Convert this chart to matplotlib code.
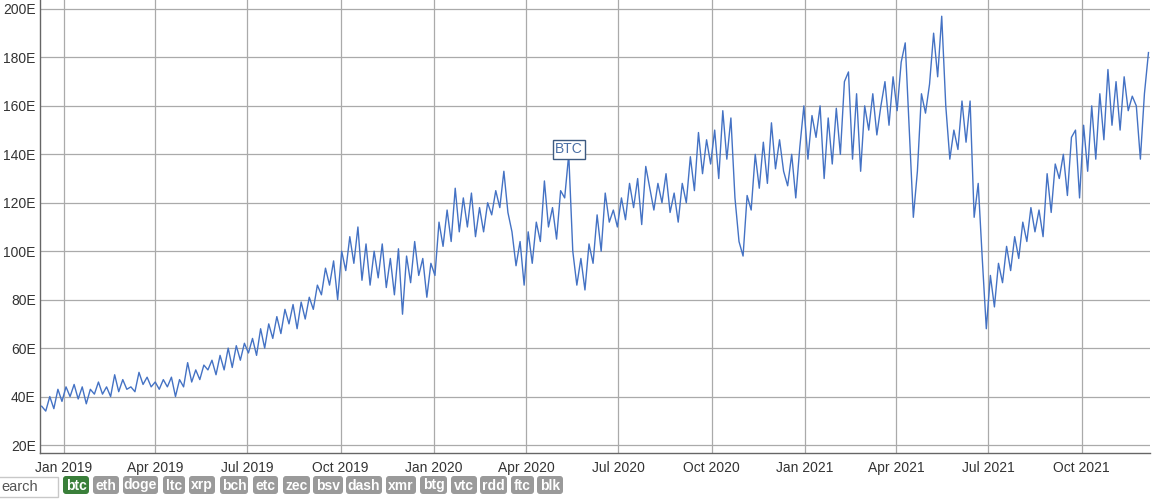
import matplotlib
matplotlib.use("Agg")
import matplotlib.pyplot as plt
import matplotlib.dates as mdates
import pandas as pd
from matplotlib.patches import FancyBboxPatch, Rectangle
from matplotlib.transforms import IdentityTransform

# btc values, one every 4 days starting 2018-12-10
start = "2018-12-10"
btc = [36, 34, 40, 35, 43, 38,
       44, 40, 45, 39, 44, 37, 43, 41,
       46, 41, 44, 40, 49, 42, 47,
       43, 44, 42, 50, 45, 48, 44,
       46, 43, 47, 44, 48, 40, 47, 44,
       54, 46, 51, 47, 53, 51, 55, 49,
       57, 51, 60, 52, 61, 55, 62,
       58, 64, 57, 68, 60, 70, 64, 73,
       66, 76, 70, 78, 68, 79, 72, 81,
       76, 86, 82, 93, 86, 96, 80,
       100, 92, 106, 95, 110, 88, 103, 86,
       100, 89, 103, 85, 97, 82, 101,
       74, 98, 87, 104, 90, 97, 81, 95,
       90, 112, 102, 117, 104, 126, 108, 122,
       110, 124, 106, 118, 108, 120, 115,
       125, 118, 133, 116, 108, 94, 104, 86,
       108, 95, 112, 104, 129, 110, 118, 105,
       125, 122, 140, 100, 86, 97, 84,
       103, 95, 115, 100, 124, 112,
       117, 110, 122, 113, 128, 118, 130, 111, 135,
       126, 117, 128, 120, 132, 116, 124, 112,
       128, 120, 139, 125, 149, 132, 146, 136,
       150, 130, 158, 138, 155, 122, 104,
       98, 123, 117, 140, 126, 145, 128,
       153, 134, 146, 133, 127, 140, 122, 143,
       160, 138, 156, 147, 160, 130, 155, 136,
       159, 140, 170, 174, 138, 165, 133, 160,
       150, 165, 148, 160, 170, 152, 172, 158,
       178, 186, 150, 114, 133, 165, 157, 169,
       190, 172, 197, 160, 138, 150, 142,
       162, 145, 162, 114, 128, 97, 68,
       90, 77, 95, 87, 102, 92, 106, 97,
       112, 104, 118, 108, 117, 106, 132, 116,
       136, 130, 140, 123, 147,
       150, 122, 152, 133, 160, 138, 165, 146, 175, 152,
       170, 150, 172, 158, 164, 160, 138, 165, 182]
dates = pd.date_range(start, periods=len(btc), freq="4D")

x_ticks = pd.date_range("2019-01-01", "2021-10-01", freq="QS")
y_ticks = [20, 40, 60, 80, 100, 120, 140, 160, 180, 200]
coins = ["btc", "eth", "doge", "ltc", "xrp", "bch", "etc", "zec",
         "bsv", "dash", "xmr", "btg", "vtc", "rdd", "ftc", "blk"]

W, H = 1155, 500
plt.rcParams["font.family"] = ["Liberation Sans", "DejaVu Sans"]

fig = plt.figure(figsize=(W / 100, H / 100), dpi=100)
ax = fig.add_axes([40 / W, 47 / H, 1110 / W, 453 / H])

ax.plot(dates, btc, color="#4472c4", lw=1.0, zorder=3)

ax.set_xlim(pd.Timestamp("2018-12-08 08:00"), pd.Timestamp("2021-12-07 12:00"))
ax.set_ylim(16.7, 203.7)
ax.set_xticks(x_ticks)
ax.xaxis.set_major_formatter(mdates.DateFormatter("%b %Y"))
ax.set_yticks(y_ticks)
ax.set_yticklabels([f"{v}E" for v in y_ticks])
ax.grid(True, color="#aaaaaa", lw=0.9)
ax.set_axisbelow(True)
ax.tick_params(length=0, labelsize=10, colors="#333333")
ax.tick_params(axis="x", pad=6)
ax.tick_params(axis="y", pad=3)
for s in ["top", "right"]:
    ax.spines[s].set_visible(False)
for s in ["left", "bottom"]:
    ax.spines[s].set_color("#666666")
    ax.spines[s].set_linewidth(1.0)

# label on the May 2020 peak
may = (dates >= "2020-05-01") & (dates <= "2020-05-31")
peak_i = max([i for i in range(len(btc)) if may[i]], key=lambda i: btc[i])
ax.text(dates[peak_i], btc[peak_i] + 2, "BTC", ha="center", va="center",
        color="#4a6fa5", fontsize=10, zorder=5,
        bbox=dict(boxstyle="square,pad=0.15", fc="white", ec="#3d5a80", lw=1))

# search box and coin buttons below the chart
ident = IdentityTransform()
fig.add_artist(Rectangle((-2, H - 497), 60, 20, transform=ident,
                         fc="white", ec="#c8c8c8", lw=1))
fig.text(1, H - 487, "earch", transform=ident, fontsize=10.5, color="#555555",
         va="center", ha="left")

lefts = [63, 93, 123, 163, 189, 220, 253, 283, 313, 346, 386, 420, 451, 480, 511, 537]
rights = [89, 119, 158, 185, 215, 248, 278, 310, 343, 382, 416, 447, 477, 507, 534, 563]
for name, x0, x1 in zip(coins, lefts, rights):
    fc = "#3a7f3a" if name == "btc" else "#9a9a9a"
    fig.add_artist(FancyBboxPatch((x0, H - 494), x1 - x0, 18,
                                  boxstyle="round,pad=0,rounding_size=3",
                                  transform=ident, fc=fc, ec="none"))
    fig.text((x0 + x1) / 2, H - 485.5, name, transform=ident, fontsize=10,
             fontweight="bold", color="white", ha="center", va="center")

fig.savefig("out.png", dpi=100)
